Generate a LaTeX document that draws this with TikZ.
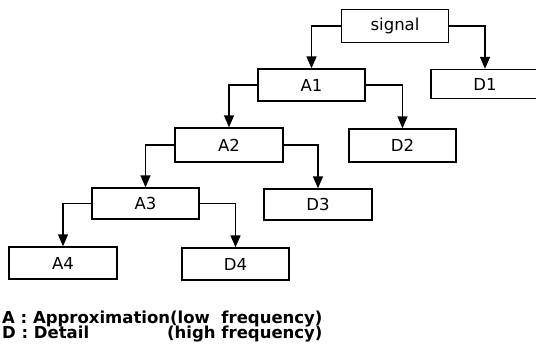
\documentclass[tikz,border=0pt]{standalone}
\usepackage{fontspec}
\setmainfont{DejaVu Sans}
\usetikzlibrary{arrows.meta}
\begin{document}
\begin{tikzpicture}[x=1pt,y=-1pt,
  box/.style={draw,line width=1.4pt,minimum width=107pt,minimum height=32pt,inner sep=0pt,
    font=\fontsize{16.5}{16.5}\selectfont},
  link/.style={line width=1.5pt,-{Triangle[width=10pt,length=12pt]}},
  legend/.style={inner sep=0pt,font=\fontsize{16.5}{16.5}\bfseries\selectfont}]
\useasboundingbox (0,0) rectangle (536,353);
% decomposition tree
\node[box,minimum height=33pt] (signal) at (395,26) {signal};
\node[box] (A1) at (311.5,85) {A1};
\node[box,minimum width=108pt,minimum height=29pt] (D1) at (485,84) {D1};
\node[box,minimum height=33pt] (D2) at (402.5,145.5) {D2};
\node[box,minimum width=108pt,minimum height=34pt] (A2) at (229,145) {A2};
\node[box,minimum width=108pt,minimum height=31pt] (D3) at (318,204.5) {D3};
\node[box,minimum height=31pt] (A3) at (145.5,203.5) {A3};
\node[box,minimum width=108pt] (A4) at (63,263) {A4};
\node[box] (D4) at (235.5,264) {D4};
% branches: approximation to the left, detail to the right
\draw[link] (signal.west) -| (A1.north);
\draw[link] (signal.east) -| (D1.north);
\draw[link] (A1.west) -| (A2.north);
\draw[link] (A1.east) -| (D2.north);
\draw[link] (A2.west) -| (A3.north);
\draw[link] (A2.east) -| (D3.north);
\draw[link] (A3.west) -| (A4.north);
\draw[link] (A3.east) -| (D4.north);
% legend
\node[legend,anchor=base west] (legA) at (2,323) {A : Approximation(low\ \ frequency)};
\node[legend,anchor=base west] (legD) at (2,338) {D : Detail};
\node[legend,anchor=base east] (legDf) at (legA.base east |- legD.base) {(high frequency)};
\end{tikzpicture}
\end{document}
